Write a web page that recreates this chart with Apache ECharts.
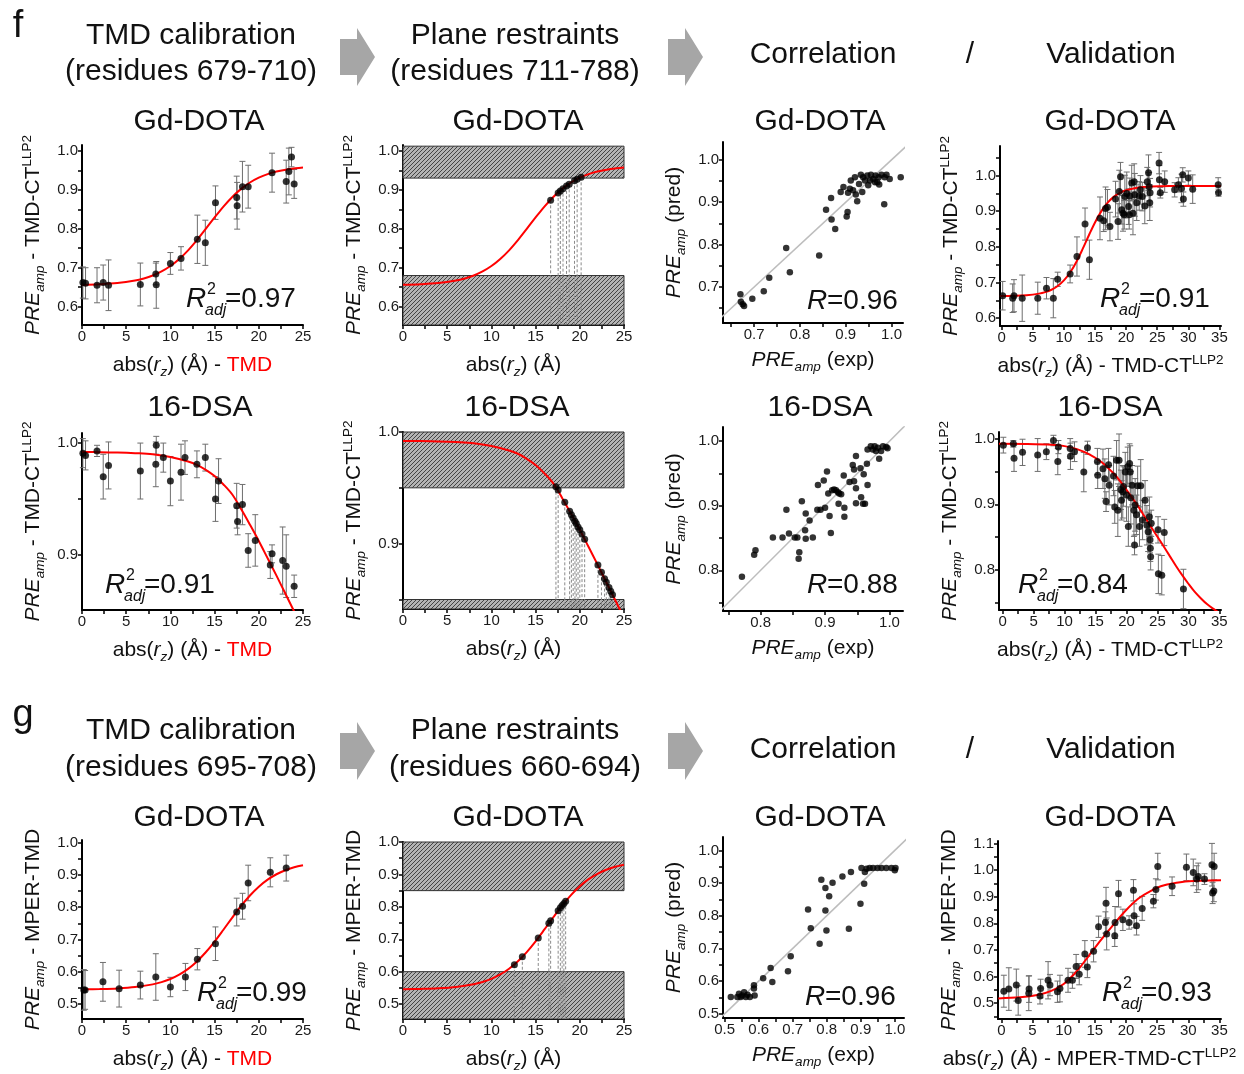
<!DOCTYPE html>
<html><head><meta charset="utf-8">
<script src="https://cdn.jsdelivr.net/npm/echarts@6/dist/echarts.min.js"></script>
<style>html,body{margin:0;padding:0;background:#fff}#c{width:1244px;height:1074px}</style>
</head><body><div id="c"></div>
<script>
// ================= DATA =================
// tick labels
const xTicks25 = [0,5,10,15,20,25];
const xTicks35 = [0,5,10,15,20,25,30,35];
const yTicksF1 = [0.6,0.7,0.8,0.9,1.0];
const yTicksCorrF1 = [0.7,0.8,0.9,1.0];
const yTicksF2 = [0.9,1.0];
const yTicksF2b = [0.8,0.9,1.0];
const yTicksG = [0.5,0.6,0.7,0.8,0.9,1.0];
const yTicksGValid = [0.5,0.6,0.7,0.8,0.9,1.0,1.1];

// ---- f, Gd-DOTA ----  [abs(rz), PREamp, err]
const fGdCalib = [[0.1,0.662,0.04],[0.4,0.660,0.04],[1.7,0.655,0.045],[2.4,0.662,0.045],[3.0,0.655,0.065],[6.6,0.657,0.055],[8.35,0.684,0.028],[8.4,0.656,0.06],[10.0,0.711,0.028],[11.2,0.724,0.03],[13.05,0.773,0.062],[13.95,0.764,0.058],[15.1,0.867,0.043],[17.5,0.880,0.055],[17.55,0.859,0.06],[18.15,0.908,0.065],[18.8,0.908,0.055],[21.5,0.944,0.05],[23.1,0.921,0.055],[23.4,0.947,0.06],[23.7,0.984,0.025],[24.0,0.915,0.037]];
const fGdFit = [[0,0.6563],[2,0.6577],[4,0.6607],[6,0.6671],[7,0.6725],[8,0.680],[9,0.6904],[10,0.7043],[11,0.7224],[12,0.7447],[13,0.7709],[14,0.7997],[15,0.829],[16,0.857],[17,0.8817],[18,0.9024],[19,0.9187],[20,0.9311],[21,0.9403],[22,0.9469],[23.5,0.9533],[25,0.9571]];
const fGdPlane = [[16.7,0.873],[17.55,0.892],[17.8,0.897],[18.1,0.903],[18.5,0.910],[18.8,0.914],[19.4,0.923],[19.7,0.927],[20.15,0.932]];
const fGdBoxes = [[0,25,0.93,1.012],[0,25,0.50,0.68]];
const fGdCorr = [[0.670,0.683],[0.671,0.665],[0.675,0.659],[0.678,0.655],[0.696,0.672],[0.721,0.690],[0.733,0.722],[0.770,0.792],[0.778,0.735],[0.842,0.774],[0.857,0.882],[0.868,0.910],[0.869,0.859],[0.877,0.837],[0.889,0.924],[0.895,0.936],[0.902,0.866],[0.904,0.877],[0.905,0.922],[0.909,0.932],[0.911,0.951],[0.916,0.928],[0.920,0.959],[0.922,0.918],[0.925,0.902],[0.929,0.943],[0.933,0.965],[0.936,0.924],[0.938,0.959],[0.942,0.951],[0.947,0.963],[0.949,0.940],[0.953,0.951],[0.955,0.965],[0.960,0.955],[0.964,0.947],[0.965,0.963],[0.969,0.947],[0.972,0.959],[0.973,0.942],[0.978,0.965],[0.984,0.895],[0.985,0.959],[0.989,0.965],[0.996,0.955],[1.020,0.959]];
const fGdValid = [[0.16,0.663,0.04],[1.77,0.656,0.04],[1.98,0.663,0.045],[3.3,0.656,0.065],[5.8,0.656,0.045],[7.2,0.684,0.03],[8.3,0.656,0.055],[9.0,0.709,0.02],[11.0,0.724,0.025],[12.1,0.773,0.055],[13.4,0.864,0.045],[14.1,0.764,0.055],[15.8,0.880,0.06],[16.4,0.873,0.03],[16.7,0.908,0.06],[17.0,0.911,0.05],[17.4,0.857,0.04],[18.3,0.934,0.05],[18.7,0.871,0.05],[18.9,0.955,0.06],[19.1,0.997,0.04],[19.3,0.904,0.04],[19.5,0.894,0.05],[19.7,0.890,0.04],[19.8,0.941,0.06],[20.1,0.950,0.06],[20.4,0.913,0.05],[20.5,0.890,0.04],[20.6,0.943,0.05],[20.9,0.979,0.05],[21.1,0.894,0.06],[21.3,0.983,0.05],[21.4,0.946,0.06],[21.7,0.924,0.05],[22.1,0.943,0.04],[22.3,0.960,0.04],[22.6,0.941,0.04],[23.0,0.915,0.05],[23.4,0.983,0.04],[23.6,1.008,0.05],[23.7,0.969,0.04],[23.8,0.924,0.05],[23.85,0.952,0.04],[25.3,1.035,0.03],[25.35,0.988,0.04],[25.5,0.952,0.015],[26.2,0.983,0.03],[27.8,0.960,0.02],[28.4,0.974,0.02],[28.9,0.964,0.04],[29.1,1.002,0.02],[29.2,0.934,0.02],[30.0,0.993,0.02],[30.7,0.962,0.04],[34.8,0.974,0.02],[34.85,0.952,0.01]];
const fGdValidFit = [[-0.3,0.6623],[2,0.6629],[4,0.6645],[6,0.6688],[7,0.673],[8,0.6797],[9,0.6902],[10,0.7058],[11,0.7282],[12,0.7578],[13,0.7935],[14,0.8319],[15,0.8685],[16,0.8995],[17,0.9233],[18,0.9402],[19,0.9515],[20,0.9589],[22,0.9664],[24,0.9693],[27,0.9706],[35.25,0.971]];

// ---- f, 16-DSA ----
const fDsaCalib = [[0.1,0.991,0.013],[0.4,0.989,0.013],[1.7,0.993,0.005],[2.4,0.970,0.02],[3.0,0.980,0.021],[6.6,0.975,0.025],[8.35,0.981,0.02],[8.4,0.998,0.008],[9.2,0.987,0.013],[10.0,0.966,0.022],[11.2,0.974,0.025],[11.65,0.987,0.015],[13.0,0.981,0.012],[13.95,0.987,0.012],[15.1,0.950,0.02],[15.45,0.966,0.02],[17.5,0.944,0.02],[17.6,0.930,0.012],[18.15,0.945,0.018],[18.8,0.904,0.015],[19.6,0.913,0.023],[21.3,0.891,0.012],[21.5,0.901,0.008],[22.7,0.895,0.03],[23.1,0.890,0.028],[24.0,0.872,0.01]];
const fDsaFit = [[0,0.992],[2,0.9919],[4,0.9916],[6,0.991],[8,0.990],[10,0.9875],[12,0.9835],[13,0.9805],[14,0.976],[15,0.9705],[16,0.963],[17,0.954],[18,0.941],[19,0.927],[20,0.9125],[21,0.897],[22,0.8815],[23,0.8655],[24,0.8495],[25,0.8335]];
const fDsaPlane = [[17.3,0.951],[17.55,0.948],[18.3,0.937],[18.85,0.929],[19.05,0.926],[19.25,0.923],[19.45,0.920],[19.6,0.918],[19.8,0.915],[20.0,0.9125],[20.25,0.9086],[20.55,0.904],[22.05,0.881],[22.45,0.8743],[22.8,0.8687],[23.0,0.8655],[23.3,0.8607],[23.5,0.8575],[23.7,0.8543]];
const fDsaBoxes = [[0,25,0.95,1.0],[0,25,0.80,0.85]];
const fDsaCorr = [[0.771,0.790],[0.790,0.824],[0.792,0.831],[0.819,0.851],[0.834,0.851],[0.840,0.894],[0.844,0.857],[0.853,0.851],[0.857,0.851],[0.859,0.818],[0.860,0.828],[0.864,0.907],[0.869,0.862],[0.870,0.849],[0.870,0.888],[0.876,0.877],[0.881,0.851],[0.888,0.894],[0.889,0.932],[0.893,0.894],[0.898,0.939],[0.900,0.897],[0.903,0.953],[0.905,0.919],[0.907,0.884],[0.909,0.858],[0.911,0.924],[0.914,0.925],[0.917,0.924],[0.920,0.921],[0.921,0.903],[0.922,0.919],[0.925,0.918],[0.929,0.947],[0.930,0.897],[0.930,0.883],[0.938,0.937],[0.943,0.963],[0.945,0.956],[0.945,0.938],[0.948,0.977],[0.948,0.927],[0.948,0.904],[0.955,0.958],[0.956,0.913],[0.960,0.949],[0.959,0.903],[0.962,0.903],[0.965,0.965],[0.966,0.932],[0.966,0.987],[0.971,0.992],[0.974,0.987],[0.977,0.992],[0.979,0.985],[0.982,0.990],[0.984,0.973],[0.987,0.985],[0.990,0.992],[0.995,0.991],[0.997,0.989]];
const fDsaValid = [[0.1,0.990,0.012],[1.72,0.992,0.005],[1.83,0.970,0.02],[3.2,0.979,0.02],[5.65,0.975,0.025],[7.05,0.980,0.012],[8.2,0.997,0.008],[8.9,0.965,0.02],[9.0,0.987,0.01],[10.9,0.985,0.015],[10.95,0.973,0.02],[11.6,0.980,0.015],[13.1,0.949,0.03],[13.7,0.986,0.01],[15.3,0.965,0.02],[15.35,0.944,0.02],[16.2,0.954,0.03],[16.5,0.939,0.03],[16.7,0.904,0.015],[17.1,0.960,0.025],[17.2,0.929,0.03],[17.9,0.943,0.03],[18.1,0.896,0.025],[18.4,0.967,0.03],[18.6,0.891,0.04],[18.8,0.967,0.04],[19.1,0.922,0.03],[19.2,0.906,0.03],[19.4,0.919,0.04],[19.5,0.927,0.03],[19.8,0.949,0.03],[20.0,0.914,0.04],[20.2,0.957,0.03],[20.3,0.866,0.03],[20.5,0.962,0.03],[20.6,0.949,0.04],[20.7,0.910,0.04],[20.9,0.929,0.03],[21.2,0.891,0.04],[21.3,0.838,0.015],[21.4,0.899,0.04],[21.6,0.884,0.03],[21.8,0.928,0.03],[22.1,0.866,0.03],[22.3,0.928,0.04],[22.6,0.876,0.03],[23.0,0.906,0.03],[23.3,0.868,0.03],[23.5,0.858,0.03],[23.7,0.881,0.03],[23.8,0.846,0.02],[23.85,0.833,0.02],[23.9,0.820,0.02],[24.0,0.871,0.02],[25.1,0.861,0.02],[25.15,0.794,0.03],[25.7,0.792,0.03],[26.1,0.857,0.02],[29.2,0.771,0.03]];
const fDsaValidFit = [[-0.6,0.992],[4,0.9917],[8,0.9905],[10,0.9885],[12,0.984],[14,0.976],[16,0.964],[18,0.946],[19,0.935],[20,0.922],[21,0.9085],[22,0.895],[23,0.880],[24,0.865],[25,0.8505],[26,0.836],[27,0.821],[28,0.806],[29,0.792],[30,0.779],[31,0.767],[32,0.757],[33,0.748],[34,0.741],[35.3,0.733]];

// ---- g, Gd-DOTA ----
const gGdCalib = [[0.2,0.544,0.063],[0.35,0.544,0.06],[2.37,0.569,0.06],[4.2,0.548,0.057],[6.6,0.559,0.043],[8.35,0.584,0.072],[10.0,0.553,0.03],[11.7,0.584,0.042],[13.05,0.639,0.033],[15.1,0.687,0.052],[17.5,0.785,0.043],[18.16,0.803,0.04],[18.8,0.875,0.055],[21.3,0.908,0.045],[23.1,0.921,0.04]];
const gGdFit = [[0,0.5458],[2,0.5468],[4,0.5487],[6,0.5528],[8,0.5612],[9,0.5682],[10,0.5779],[11,0.5913],[12,0.6091],[13,0.6321],[14,0.6605],[15,0.6937],[16,0.7303],[17,0.7679],[18,0.804],[19,0.8362],[20,0.8635],[21,0.8853],[22,0.902],[23,0.9145],[24,0.9236],[25,0.930]];
const gGdPlane = [[12.6,0.621],[13.5,0.646],[15.3,0.704],[16.5,0.749],[16.7,0.757],[17.55,0.788],[17.8,0.797],[18.0,0.804],[18.2,0.8105],[18.4,0.817]];
const gGdBoxes = [[0,25,0.85,1.0],[0,25,0.40,0.60]];
const gGdCorr = [[0.518,0.551],[0.537,0.551],[0.542,0.561],[0.547,0.551],[0.551,0.556],[0.557,0.566],[0.562,0.551],[0.567,0.558],[0.574,0.551],[0.586,0.577],[0.586,0.587],[0.588,0.556],[0.613,0.609],[0.635,0.640],[0.640,0.597],[0.686,0.630],[0.694,0.676],[0.745,0.819],[0.753,0.762],[0.779,0.714],[0.784,0.910],[0.796,0.885],[0.796,0.816],[0.799,0.755],[0.807,0.860],[0.817,0.901],[0.846,0.920],[0.865,0.760],[0.871,0.934],[0.899,0.837],[0.902,0.946],[0.910,0.898],[0.912,0.934],[0.917,0.944],[0.926,0.946],[0.936,0.946],[0.949,0.946],[0.961,0.946],[0.975,0.946],[0.990,0.946],[1.000,0.939],[1.002,0.946]];
const gGdValid = [[0.4,0.545,0.06],[1.2,0.553,0.08],[2.4,0.568,0.06],[2.7,0.510,0.055],[4.4,0.537,0.065],[4.45,0.553,0.05],[6.2,0.527,0.03],[6.3,0.555,0.035],[7.5,0.586,0.07],[7.8,0.568,0.04],[9.0,0.543,0.04],[9.4,0.555,0.05],[10.7,0.586,0.045],[11.4,0.586,0.03],[12.0,0.638,0.045],[12.5,0.609,0.04],[13.4,0.685,0.05],[13.8,0.636,0.04],[14.8,0.695,0.04],[15.6,0.787,0.04],[16.7,0.803,0.04],[16.8,0.875,0.06],[16.9,0.760,0.06],[18.2,0.753,0.04],[18.25,0.803,0.06],[18.8,0.911,0.05],[19.5,0.813,0.04],[20.5,0.803,0.025],[21.2,0.924,0.04],[21.3,0.828,0.045],[21.7,0.791,0.035],[22.6,0.856,0.045],[24.4,0.883,0.025],[24.8,0.927,0.04],[25.1,1.013,0.05],[27.4,0.939,0.035],[29.7,1.010,0.05],[30.8,0.991,0.05],[31.35,0.966,0.05],[31.6,0.976,0.05],[32.6,0.966,0.02],[33.8,1.020,0.08],[33.9,0.914,0.04],[34.1,0.921,0.04],[34.15,1.013,0.05]];
const gGdValidFit = [[-0.5,0.518],[3,0.522],[6,0.532],[8,0.546],[10,0.572],[12,0.617],[14,0.677],[16,0.738],[18,0.795],[20,0.849],[22,0.893],[24,0.922],[26,0.942],[29,0.955],[32,0.960],[35.25,0.962]];

// identity line for the correlation panels
const identity = [[0.4,0.4],[1.1,1.1]];

// ================= RENDERING =================
const FONT = '"Liberation Sans", Arial, Helvetica, sans-serif';
function makeHatch(){
  const c = document.createElement('canvas'); c.width = 4; c.height = 4;
  const g = c.getContext('2d');
  g.fillStyle = '#b4b4b4'; g.fillRect(0,0,4,4);
  g.strokeStyle = '#454545'; g.lineWidth = 1;
  g.beginPath(); g.moveTo(-1,5); g.lineTo(5,-1); g.moveTo(-1,1); g.lineTo(1,-1); g.moveTo(3,5); g.lineTo(5,3); g.stroke();
  return c;
}
const HATCH = {image: makeHatch(), repeat: 'repeat'};

function withMinor(labels, min, max){
  const step = (labels[1]-labels[0])/2, out=[];
  for (let v = labels[0]-4*step; v <= labels[labels.length-1]+4*step+1e-9; v += step){
    const r = Math.round(v*10000)/10000;
    if (r >= min-1e-9 && r <= max+1e-9) out.push(r);
  }
  return out;
}

const RICH = {
  n:{fontSize:21,fontFamily:FONT,color:'#111',lineHeight:27},
  i:{fontSize:21,fontFamily:FONT,color:'#111',fontStyle:'italic',lineHeight:27},
  red:{fontSize:21,fontFamily:FONT,color:'#ff0000',lineHeight:27},
  sub:{fontSize:13.5,fontFamily:FONT,color:'#111',fontStyle:'italic',verticalAlign:'bottom',lineHeight:14},
  sup:{fontSize:13.5,fontFamily:FONT,color:'#111',verticalAlign:'top',lineHeight:19}
};
const NM = {
  yTMDCT: '{i|PRE}{sub|amp}{n| - TMD-CT}{sup|LLP2}',
  yMPER: '{i|PRE}{sub|amp}{n| - MPER-TMD}',
  yPred: '{i|PRE}{sub|amp}{n| (pred)}',
  xExp: '{i|PRE}{sub|amp}{n| (exp)}',
  xTMD: '{n|abs(}{i|r}{sub|z}{n|) (Å) - }{red|TMD}',
  xPlain: '{n|abs(}{i|r}{sub|z}{n|) (Å)}',
  xCT: '{n|abs(}{i|r}{sub|z}{n|) (Å) - TMD-CT}{sup|LLP2}',
  xMPER: '{n|abs(}{i|r}{sub|z}{n|) (Å) - MPER-TMD-CT}{sup|LLP2}'
};

const grids=[], xAxes=[], yAxes=[], series=[];
function makeAxis(gi, a, name, gap, pad){
  const ticks = withMinor(a.labels, a.min, a.max);
  return {
    gridIndex:gi, type:'value', min:a.min, max:a.max, scale:true,
    axisLine:{show:true,onZero:false,lineStyle:{color:'#000',width:2}},
    axisTick:{show:true,inside:false,length:4,customValues:ticks,lineStyle:{color:'#000',width:1.5}},
    axisLabel:{show:true,customValues:a.labels,fontSize:15,color:'#1a1a1a',margin:4,fontFamily:FONT,
      formatter:(v)=> a.dec ? Number(v).toFixed(a.dec) : String(Math.round(v))},
    splitLine:{show:false},
    name:name, nameLocation:'middle', nameGap:gap,
    nameTextStyle:{fontFamily:FONT,fontSize:21,color:'#111',rich:RICH,padding:pad||0}
  };
}
function addPanel(p){
  const gi = grids.length;
  grids.push({left:p.box[0],top:p.box[1],width:p.box[2],height:p.box[3],containLabel:false});
  xAxes.push(makeAxis(gi,p.x,p.xName,p.xGap||27,p.xPad));
  yAxes.push(makeAxis(gi,p.y,p.yName,p.yGap||35,[0,0,0,0]));
  p.series.forEach(s=>series.push(Object.assign({xAxisIndex:gi,yAxisIndex:gi,animation:false},s)));
}

function renderErr(params, api){
  const x=api.value(0), y=api.value(1), e=api.value(2);
  const hi=api.coord([x,y+e]), lo=api.coord([x,y-e]);
  const w=3, st={stroke:'#6e6e6e',lineWidth:1};
  return {type:'group',children:[
    {type:'line',shape:{x1:hi[0],y1:hi[1],x2:lo[0],y2:lo[1]},style:st},
    {type:'line',shape:{x1:hi[0]-w,y1:hi[1],x2:hi[0]+w,y2:hi[1]},style:st},
    {type:'line',shape:{x1:lo[0]-w,y1:lo[1],x2:lo[0]+w,y2:lo[1]},style:st}]};
}
function renderBox(params, api){
  const p0=api.coord([api.value(0),api.value(3)]), p1=api.coord([api.value(1),api.value(2)]);
  const cs=params.coordSys;
  const r=echarts.graphic.clipRectByRect({x:p0[0],y:p0[1],width:p1[0]-p0[0],height:p1[1]-p0[1]},{x:cs.x,y:cs.y,width:cs.width,height:cs.height});
  if(!r) return;
  return {type:'rect',shape:r,style:{fill:HATCH,stroke:'#333',lineWidth:1}};
}
function renderDrop(params, api){
  const p=api.coord([api.value(0),api.value(1)]); const cs=params.coordSys;
  return {type:'line',shape:{x1:p[0],y1:p[1],x2:p[0],y2:cs.y+cs.height},style:{stroke:'#8a8a8a',lineWidth:1,lineDash:[3,2]}};
}
const errS = d=>({type:'custom',data:d,encode:{x:0,y:1},renderItem:renderErr,z:2,silent:true});
const dotS = (d,s)=>({type:'scatter',data:d.map(v=>[v[0],v[1]]),symbolSize:s||7,itemStyle:{color:'#000'},z:5,silent:true});
const fitS = d=>({type:'line',data:d,smooth:0.35,showSymbol:false,lineStyle:{color:'#ff0000',width:2},z:3,clip:true,silent:true});
const boxS = d=>({type:'custom',data:d,encode:{x:[0,1],y:[2,3]},renderItem:renderBox,z:1,silent:true});
const dropS = d=>({type:'custom',data:d,encode:{x:0,y:1},renderItem:renderDrop,z:2,silent:true});
const idS = d=>({type:'line',data:d,showSymbol:false,lineStyle:{color:'#bdbdbd',width:1.5},z:1,clip:true,silent:true});

const X25 = {min:0,max:25,labels:xTicks25,dec:0};
// ---- row f1 ----
addPanel({box:[82,145,221,180],x:X25,y:{min:0.553,max:1.015,labels:yTicksF1,dec:1},xName:NM.xTMD,yName:NM.yTMDCT,
  series:[errS(fGdCalib),fitS(fGdFit),dotS(fGdCalib)]});
addPanel({box:[403,145,221,180],x:X25,y:{min:0.553,max:1.015,labels:yTicksF1,dec:1},xName:NM.xPlain,yName:NM.yTMDCT,
  series:[boxS(fGdBoxes),dropS(fGdPlane),fitS(fGdFit),dotS(fGdPlane)]});
addPanel({box:[723,142,180,181],x:{min:0.632,max:1.025,labels:yTicksCorrF1,dec:1},y:{min:0.615,max:1.042,labels:yTicksCorrF1,dec:1},xName:NM.xExp,yName:NM.yPred,xGap:24,
  series:[idS(identity),dotS(fGdCorr,6.5)]});
addPanel({box:[1000,146,221,180],x:{min:-0.27,max:35.25,labels:xTicks35,dec:0},y:{min:0.578,max:1.083,labels:yTicksF1,dec:1},xName:NM.xCT,yName:NM.yTMDCT,
  series:[errS(fGdValid),fitS(fGdValidFit),dotS(fGdValid)]});
// ---- row f2 ----
addPanel({box:[82,433,221,177],x:X25,y:{min:0.8508,max:1.009,labels:yTicksF2,dec:1},xName:NM.xTMD,yName:NM.yTMDCT,
  series:[errS(fDsaCalib),fitS(fDsaFit),dotS(fDsaCalib)]});
addPanel({box:[403,432,221,177],x:X25,y:{min:0.8415,max:1.0,labels:yTicksF2,dec:1},xName:NM.xPlain,yName:NM.yTMDCT,
  series:[boxS(fDsaBoxes),dropS(fDsaPlane),fitS(fDsaFit),dotS(fDsaPlane)]});
addPanel({box:[723,427,180,184],x:{min:0.7416,max:1.021,labels:yTicksF2b,dec:1},y:{min:0.737,max:1.022,labels:yTicksF2b,dec:1},xName:NM.xExp,yName:NM.yPred,xGap:24,
  series:[idS(identity),dotS(fDsaCorr,6.5)]});
addPanel({box:[999,432,222,178],x:{min:-0.6,max:35.27,labels:xTicks35,dec:0},y:{min:0.739,max:1.01,labels:yTicksF2b,dec:1},xName:NM.xCT,yName:NM.yTMDCT,
  series:[errS(fDsaValid),fitS(fDsaValidFit),dotS(fDsaValid)]});
// ---- row g ----
addPanel({box:[82,840,221,180],x:X25,y:{min:0.454,max:1.008,labels:yTicksG,dec:1},xName:NM.xTMD,yName:NM.yMPER,
  series:[errS(gGdCalib),fitS(gGdFit),dotS(gGdCalib)]});
addPanel({box:[403,842,221,178],x:X25,y:{min:0.454,max:1.0,labels:yTicksG,dec:1},xName:NM.xPlain,yName:NM.yMPER,
  series:[boxS(gGdBoxes),dropS(gGdPlane),fitS(gGdFit),dotS(gGdPlane)]});
addPanel({box:[723,837,181,181],x:{min:0.495,max:1.027,labels:yTicksG,dec:1},y:{min:0.487,max:1.041,labels:yTicksG,dec:1},xName:NM.xExp,yName:NM.yPred,xGap:24,
  series:[idS(identity),dotS(gGdCorr,6.5)]});
addPanel({box:[998,841,223,180],x:{min:-0.54,max:35.25,labels:xTicks35,dec:0},y:{min:0.4406,max:1.109,labels:yTicksGValid,dec:1},xName:NM.xMPER,yName:NM.yMPER,xPad:[0,40,0,0],
  series:[errS(gGdValid),fitS(gGdValidFit),dotS(gGdValid)]});

// ---------- graphic texts ----------
const G = [];
function txt(s, x, y, size, opt){
  G.push({type:'text',x:x,y:y,silent:true,style:Object.assign({text:s,fontSize:size,fontFamily:FONT,fill:'#111',align:'center',verticalAlign:'middle'},opt||{})});
}
function arrow(x, y){ // y = centre line
  G.push({type:'polygon',silent:true,shape:{points:[[x,y-18],[x+17,y-18],[x+17,y-29],[x+35,y],[x+17,y+29],[x+17,y+18],[x,y+18]]},style:{fill:'#a6a6a6'}});
}
function rLabel(x, yc, val, adj){
  txt('R', x, yc, 28, {fontStyle:'italic',align:'left'});
  let nx = x + 20;
  if (adj){
    txt('2', x+21, yc-9, 16, {align:'left'});
    txt('adj', x+19, yc+12, 16, {align:'left',fontStyle:'italic'});
    nx = x + 39;
  }
  txt('='+val, nx, yc, 28, {align:'left'});
}
// row f headers
txt('f', 18, 27, 38, {});
txt('TMD calibration', 191, 36, 30); txt('(residues 679-710)', 191, 72, 30);
arrow(340, 57);
txt('Plane restraints', 515, 36, 30); txt('(residues 711-788)', 515, 72, 30);
arrow(668, 57);
txt('Correlation', 823, 55, 30); txt('/', 970, 55, 30); txt('Validation', 1111, 55, 30);
[199,518,820,1110].forEach(cx=>txt('Gd-DOTA', cx, 122, 30));
[200,517,820,1110].forEach(cx=>txt('16-DSA', cx, 408, 30));
// row g headers
txt('g', 23, 716, 38, {});
txt('TMD calibration', 191, 731, 30); txt('(residues 695-708)', 191, 768, 30);
arrow(340, 751);
txt('Plane restraints', 515, 731, 30); txt('(residues 660-694)', 515, 768, 30);
arrow(668, 751);
txt('Correlation', 823, 750, 30); txt('/', 970, 750, 30); txt('Validation', 1111, 750, 30);
[199,518,820,1110].forEach(cx=>txt('Gd-DOTA', cx, 818, 30));
// statistics
rLabel(186, 299, '0.97', true);
rLabel(807, 301, '0.96', false);
rLabel(1100, 299, '0.91', true);
rLabel(105, 585, '0.91', true);
rLabel(807, 585, '0.88', false);
rLabel(1018, 585, '0.84', true);
rLabel(197, 993, '0.99', true);
rLabel(805, 997, '0.96', false);
rLabel(1102, 993, '0.93', true);

const chart = echarts.init(document.getElementById('c'), null, {renderer:'canvas'});
chart.setOption({animation:false,backgroundColor:'#fff',textStyle:{fontFamily:FONT},
  grid:grids,xAxis:xAxes,yAxis:yAxes,series:series,graphic:G});
</script></body></html>
